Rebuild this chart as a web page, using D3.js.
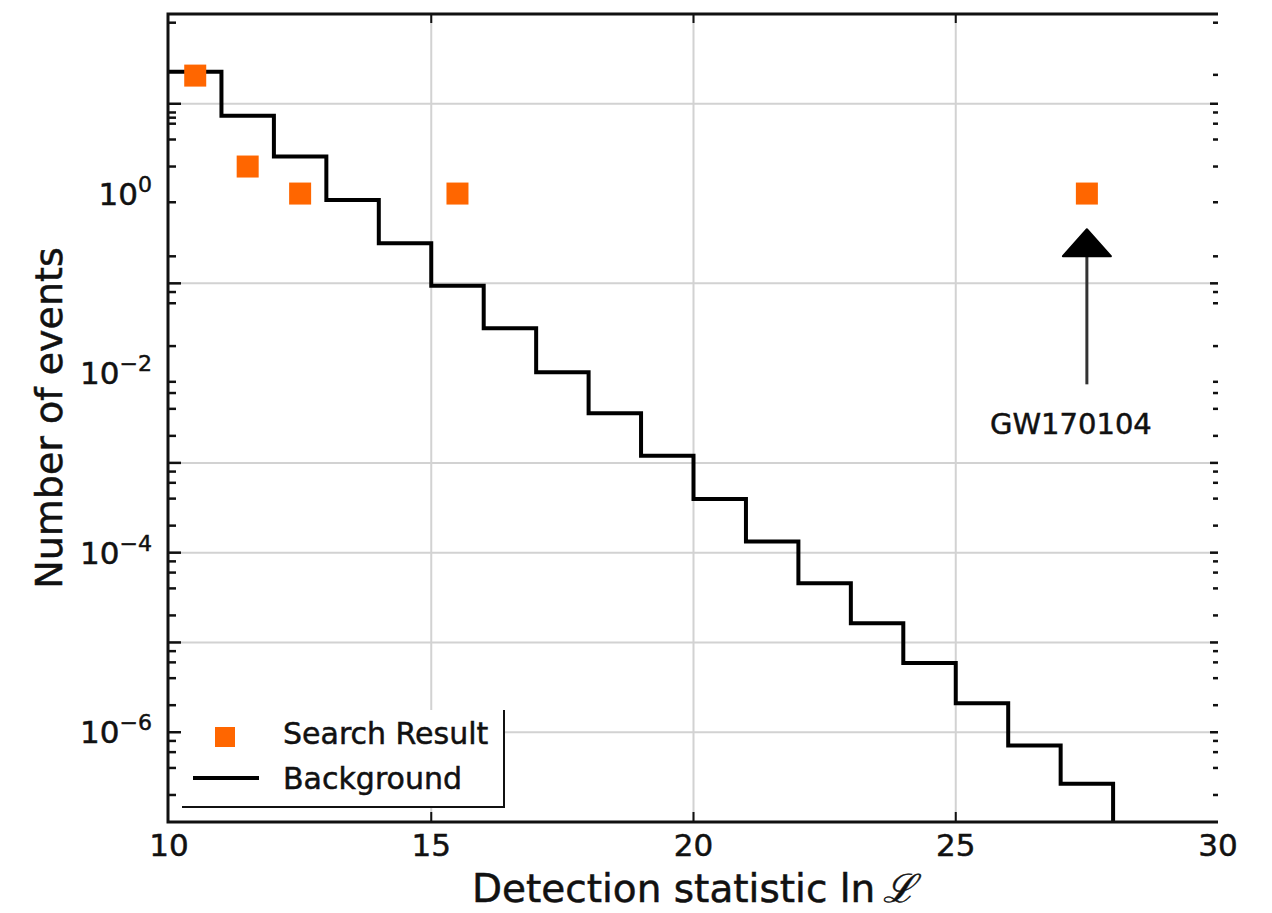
<!DOCTYPE html>
<html>
<head>
<meta charset="utf-8">
<script src="https://cdn.jsdelivr.net/npm/d3@7"></script>
<style>
  body { margin: 0; background: #fff; }
  text { font-family: "DejaVu Sans", sans-serif; fill: #111; stroke: #111; stroke-width: 0.5px; }
</style>
</head>
<body>
<div id="chart"></div>
<script>
// data
var binEdges = [10, 11, 12, 13, 14, 15, 16, 17, 18, 19, 20, 21, 22, 23, 24, 25, 26, 27, 28];
var background = [22.8, 7.37, 2.58, 0.85, 0.28, 0.094, 0.0316, 0.0102, 0.00357, 0.0012,
  3.97e-4, 1.33e-4, 4.57e-5, 1.64e-5, 5.9e-6, 2.1e-6, 7.1e-7, 2.66e-7];
var searchX = [10.5, 11.5, 12.5, 15.5, 27.5];
var searchY = [20.6, 2, 1, 1, 1];

// axis ticks
var xTicks = [10, 15, 20, 25, 30];
var xGrid = [15, 20, 25];
var yLabelExp = [0, -2, -4, -6];
var yMajor = [10, 0.1, 1e-3, 1e-4, 1e-5, 1e-6];
var yMinorLeft = [80, 8, 7, 6, 4, 2, 0.8, 0.2, 0.08, 0.06, 0.02, 0.008, 0.006, 0.004, 0.002,
  8e-4, 6e-4, 4e-4, 2e-4, 8e-5, 6e-5, 4e-5, 2e-5, 8e-6, 6e-6, 4e-6, 2e-6, 8e-7, 6e-7, 4e-7, 2e-7];
var yMinorRight = [80, 21, 8, 6, 4, 2, 0.8, 0.2, 0.08, 0.06, 0.02, 0.008, 0.006, 0.004, 0.002,
  8e-4, 6e-4, 4e-4, 2e-4, 8e-5, 6e-5, 4e-5, 2e-5, 8e-6, 6e-6, 4e-6, 2e-6, 8e-7, 6e-7, 4e-7, 2e-7];

// annotation
var annoLabel = "GW170104";
var annoX = 27.5;
var annoTip = 0.4;
var annoTail = 0.0075;

var svgWidth = 1272;
var svgHeight = 913;
var orange = "#ff6600";

var svg = d3.select("#chart")
  .append("svg")
  .attr("width", svgWidth)
  .attr("height", svgHeight);

var x = d3.scaleLinear().domain([10, 30]).range([169, 1218]);
var y = d3.scaleLog().domain([1e-7, 1e2]).range([822, 14]);

var plotTop = y.range()[1], plotBottom = y.range()[0];
var plotLeft = x.range()[0], plotRight = x.range()[1];

svg.append("defs").append("clipPath").attr("id", "plotclip")
  .append("rect")
  .attr("x", plotLeft).attr("y", plotTop)
  .attr("width", plotRight - plotLeft).attr("height", plotBottom - plotTop);

// gridlines
var grid = svg.append("g").attr("stroke", "#d2d2d2").attr("stroke-width", 2);
grid.selectAll(".vg").data(xGrid).enter().append("line")
  .attr("x1", d => x(d)).attr("x2", d => x(d))
  .attr("y1", plotTop).attr("y2", plotBottom);
grid.selectAll(".hg").data(yMajor).enter().append("line")
  .attr("x1", plotLeft).attr("x2", plotRight)
  .attr("y1", d => y(d)).attr("y2", d => y(d));

// background step line
var stepPts = binEdges.slice(0, -1).map((e, i) => [e, background[i]]);
stepPts.push([binEdges[binEdges.length - 1], background[background.length - 1]]);
stepPts.push([binEdges[binEdges.length - 1], 1e-8]);

var stepLine = d3.line()
  .x(d => x(d[0]))
  .y(d => y(d[1]))
  .curve(d3.curveStepAfter);

svg.append("path")
  .attr("clip-path", "url(#plotclip)")
  .attr("d", stepLine(stepPts))
  .attr("fill", "none")
  .attr("stroke", "#000")
  .attr("stroke-width", 4);

// search result squares
var sq = 22;
svg.selectAll(".sr").data(searchX).enter().append("rect")
  .attr("x", d => x(d) - sq / 2)
  .attr("y", (d, i) => y(searchY[i]) - sq / 2)
  .attr("width", sq).attr("height", sq)
  .attr("fill", orange);

// arrow annotation
var ax = x(annoX);
var tipY = y(annoTip);
var headLen = 27, headW = 48;
svg.append("line")
  .attr("x1", ax).attr("x2", ax)
  .attr("y1", y(annoTail)).attr("y2", tipY + headLen - 2)
  .attr("stroke", "#333").attr("stroke-width", 3);
svg.append("path")
  .attr("d", `M${ax},${tipY} L${ax + headW / 2},${tipY + headLen} L${ax - headW / 2},${tipY + headLen} Z`)
  .attr("fill", "#000")
  .attr("stroke", "#000")
  .attr("stroke-width", 2)
  .attr("stroke-linejoin", "round");
svg.append("text")
  .attr("x", ax - 16)
  .attr("y", y(annoTail) + 50)
  .attr("text-anchor", "middle")
  .style("font-size", "29px")
  .text(annoLabel);

// legend
var lg = svg.append("g");
lg.append("rect")
  .attr("x", 180).attr("y", 710).attr("width", 324).attr("height", 97)
  .attr("fill", "#fff");
lg.append("path")
  .attr("d", "M504,710 V807 H182")
  .attr("fill", "none").attr("stroke", "#111").attr("stroke-width", 2);
lg.append("rect")
  .attr("x", 225 - 10).attr("y", 737 - 10).attr("width", 20).attr("height", 20)
  .attr("fill", orange);
lg.append("line")
  .attr("x1", 193).attr("x2", 259).attr("y1", 778).attr("y2", 778)
  .attr("stroke", "#000").attr("stroke-width", 4);
lg.append("text").attr("x", 283).attr("y", 744).style("font-size", "30px").text("Search Result");
lg.append("text").attr("x", 283).attr("y", 789).style("font-size", "30px").text("Background");

// ticks (inward)
var ticks = svg.append("g").attr("stroke", "#111");
ticks.selectAll(".lmaj").data(yMajor).enter().append("line")
  .attr("x1", plotLeft).attr("x2", plotLeft + 12).attr("y1", d => y(d)).attr("y2", d => y(d))
  .attr("stroke-width", 2.5);
ticks.selectAll(".lmin").data(yMinorLeft).enter().append("line")
  .attr("x1", plotLeft).attr("x2", plotLeft + 7).attr("y1", d => y(d)).attr("y2", d => y(d))
  .attr("stroke-width", 2.5);
ticks.selectAll(".rmaj").data(yMajor).enter().append("line")
  .attr("x1", plotRight - 8).attr("x2", plotRight).attr("y1", d => y(d)).attr("y2", d => y(d))
  .attr("stroke-width", 2.5);
ticks.selectAll(".rmin").data(yMinorRight).enter().append("line")
  .attr("x1", plotRight - 5).attr("x2", plotRight).attr("y1", d => y(d)).attr("y2", d => y(d))
  .attr("stroke-width", 2.5);
ticks.selectAll(".bt").data(xGrid).enter().append("line")
  .attr("x1", d => x(d)).attr("x2", d => x(d)).attr("y1", plotBottom).attr("y2", plotBottom - 10)
  .attr("stroke-width", 2);
ticks.selectAll(".tt").data(xGrid).enter().append("line")
  .attr("x1", d => x(d)).attr("x2", d => x(d)).attr("y1", plotTop).attr("y2", plotTop + 9)
  .attr("stroke-width", 2);

// spines: left, top, bottom (no right)
svg.append("path")
  .attr("d", `M${plotRight},${plotTop} H${plotLeft - 1} V${plotBottom} H${plotRight}`)
  .attr("fill", "none").attr("stroke", "#111").attr("stroke-width", 3);

// x tick labels
svg.selectAll(".xl").data(xTicks).enter().append("text")
  .attr("x", d => x(d)).attr("y", 856)
  .attr("text-anchor", "middle")
  .style("font-size", "31px")
  .text(d => d);

// y tick labels 10^n
var yl = svg.selectAll(".yl").data(yLabelExp).enter().append("text")
  .attr("x", 152).attr("y", d => y(Math.pow(10, d)) + 11)
  .attr("text-anchor", "end")
  .style("font-size", "31px");
yl.append("tspan").text("10");
yl.append("tspan").attr("dy", -13).style("font-size", "22px")
  .text(d => d < 0 ? "\u2212" + (-d) : d);

// axis labels
svg.append("text")
  .attr("x", (plotLeft + plotRight) / 2).attr("y", 902)
  .attr("text-anchor", "middle")
  .style("font-size", "39px")
  .text("Detection statistic ln\u2009")
  .append("tspan")
  .style("font-family", "'DejaVu Serif', serif")
  .style("font-style", "italic")
  .text("\u2112");

svg.append("text")
  .attr("transform", `translate(62, ${(plotTop + plotBottom) / 2}) rotate(-90)`)
  .attr("text-anchor", "middle")
  .style("font-size", "38px")
  .text("Number of events");
</script>
</body>
</html>
